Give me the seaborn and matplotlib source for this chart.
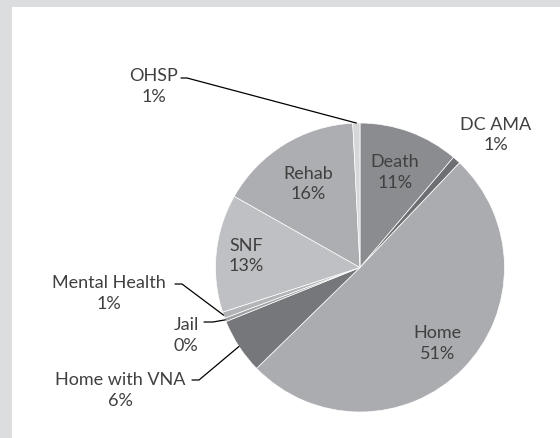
import matplotlib
matplotlib.use("Agg")
import matplotlib.pyplot as plt
import seaborn as sns
import numpy as np
from matplotlib.patches import Rectangle

# ---- data ----
categories = ["Death", "DC AMA", "Home", "Home with VNA", "Jail",
              "Mental Health", "SNF", "Rehab", "OHSP"]
values = [11.2, 0.9, 50.6, 6.2, 0.4, 0.7, 13.2, 16.0, 0.8]
colors = ["#8b8c90", "#6e6f73", "#abacb0", "#76777b", "#9fa0a4",
          "#b3b4b7", "#bfc0c3", "#adaeb1", "#d6d7d9"]

sns.set_style("white")
plt.rcParams["font.family"] = ["Lato", "DejaVu Sans"]

W, H = 560, 438
fig = plt.figure(figsize=(W / 100, H / 100), dpi=100)
fig.patch.set_facecolor("#dcdddf")
ax = fig.add_axes([0, 0, 1, 1])
ax.add_patch(Rectangle((12 / W, 0), 1 - 12 / W, 1 - 7 / H,
                       transform=fig.transFigure, facecolor="white",
                       edgecolor="none", zorder=-10))

def py(y):
    return H - y

cx, cy, R = 360, py(267.5), 144.5
wedges, _ = ax.pie(values, colors=colors, startangle=90, counterclock=False,
                   center=(cx, cy), radius=R,
                   wedgeprops=dict(edgecolor="white", linewidth=0.5))
ax.set_xlim(0, W)
ax.set_ylim(0, H)
ax.set_aspect("equal")
ax.set_axis_off()

txt_color = "#404040"
fs = 13

def point(w, frac):
    a = np.deg2rad((w.theta1 + w.theta2) / 2)
    return cx + frac * R * np.cos(a), cy + frac * R * np.sin(a)

inside = {"Death": 0.70, "Rehab": 0.68, "SNF": 0.79, "Home": 0.75}
outside = {
    "OHSP": ((154, 86.5), [(181, 78), (187, 78)]),
    "DC AMA": ((496, 135), None),
    "Mental Health": ((109, 293.5), [(175, 284), (182, 284)]),
    "Jail": ((186, 335.5), [(204, 322), (213, 322)]),
    "Home with VNA": ((120, 390.5), [(192, 380), (199, 380)]),
}

for w, name, v in zip(wedges, categories, values):
    label = f"{name}\n{v:.0f}%"
    if name in inside:
        x, y = point(w, inside[name])
        ax.text(x, y, label, ha="center", va="center", fontsize=fs,
                color=txt_color, linespacing=1.35)
    else:
        (tx, ty), lead = outside[name]
        ax.text(tx, py(ty), label, ha="center", va="center", fontsize=fs,
                color=txt_color, linespacing=1.35)
        if lead is not None:
            rx, ry = point(w, 1.0)
            xs = [p[0] for p in lead] + [rx]
            ys = [py(p[1]) for p in lead] + [ry]
            ax.plot(xs, ys, color="black", lw=0.9)

fig.savefig("out.png", dpi=100, facecolor=fig.get_facecolor())
